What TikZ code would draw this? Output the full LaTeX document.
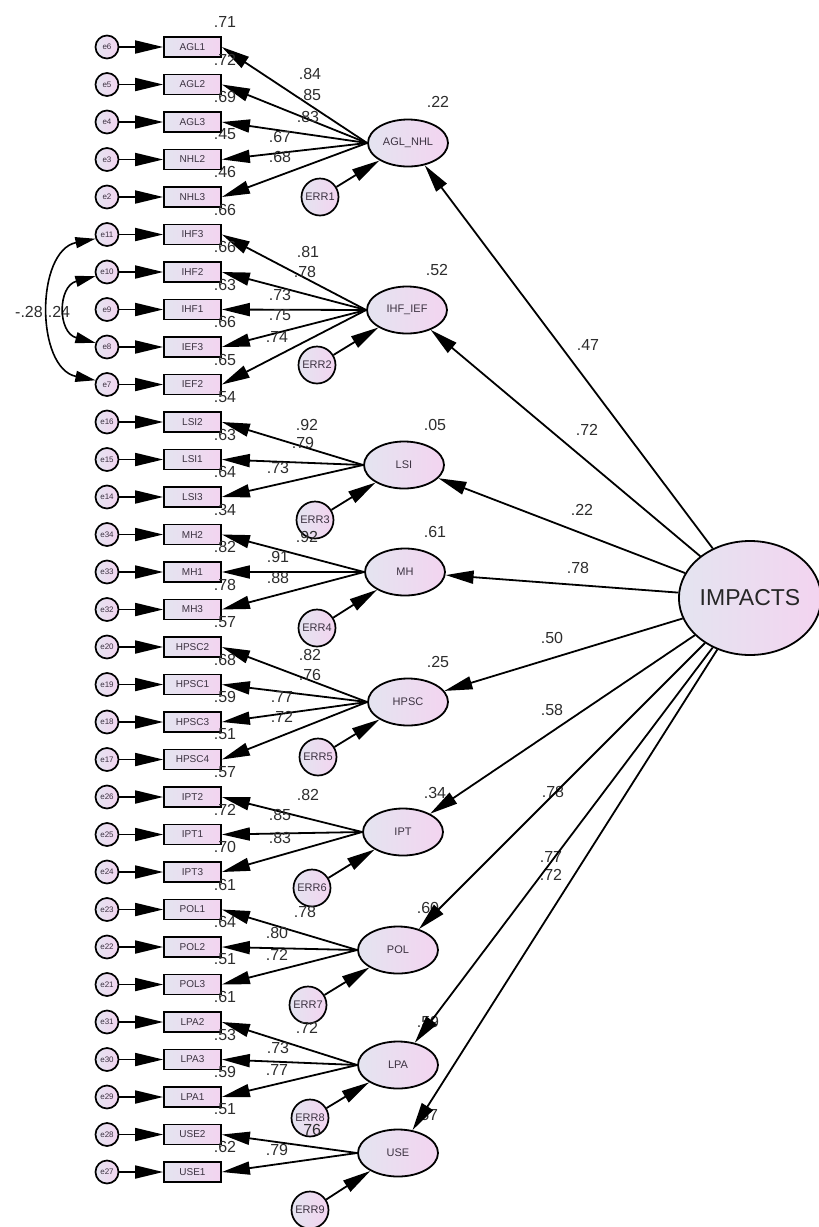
\documentclass[tikz,border=0pt]{standalone}
\usepackage{fontspec}
\setmainfont{Liberation Sans}
\usetikzlibrary{arrows.meta,shapes.geometric}
\definecolor{fillL}{RGB}{228,228,240}
\definecolor{fillR}{RGB}{243,212,240}
\definecolor{txt}{RGB}{60,50,65}
\definecolor{num}{RGB}{45,45,45}
\tikzset{
 arr/.style={line width=1.8pt, -{Triangle[length=28pt,width=13pt]}},
 biarr/.style={line width=1.6pt, {Triangle[length=20pt,width=11pt]}-{Triangle[length=20pt,width=11pt]}},
 ind/.style={draw, line width=1.7pt, rectangle, minimum width=57pt, minimum height=20pt, inner sep=0pt, left color=fillL, right color=fillR, font=\fontsize{10}{10}\selectfont, text=txt},
 ecirc/.style={draw, circle, line width=1.7pt, minimum size=23pt, inner sep=0pt, left color=fillL, right color=fillR, font=\fontsize{8}{8}\selectfont, text=txt},
 errc/.style={draw, circle, line width=1.7pt, minimum size=37pt, inner sep=0pt, left color=fillL, right color=fillR, font=\fontsize{11}{11}\selectfont, text=txt},
 lat/.style={draw, ellipse, line width=1.8pt, minimum width=80pt, minimum height=47pt, inner sep=0pt, left color=fillL, right color=fillR, font=\fontsize{11}{11}\selectfont, text=txt},
 lab/.style={font=\fontsize{16}{16}\selectfont, text=num, inner sep=0pt},
}
\begin{document}
\begin{tikzpicture}[x=1pt,y=-1pt]
\useasboundingbox (0,0) rectangle (819,1227);
% latent variables
\node[lat] (AGLNHL) at (408,143) {AGL\_NHL};
\node[lat] (IHFIEF) at (407,310) {IHF\_IEF};
\node[lat] (LSI) at (404,465) {LSI};
\node[lat] (MH) at (405,572) {MH};
\node[lat] (HPSC) at (408,702) {HPSC};
\node[lat] (IPT) at (403,832) {IPT};
\node[lat] (POL) at (398,950) {POL};
\node[lat] (LPA) at (398,1065) {LPA};
\node[lat] (USE) at (398,1153) {USE};
\node[draw, ellipse, line width=1.8pt, minimum width=134pt, minimum height=114pt, inner sep=0pt, left color=fillL, right color=fillR, text=black!85, font=\fontsize{23}{23}\selectfont] (IMP) at (750,598) {IMPACTS};
% residuals of latents
\node[errc] (ERR1) at (320,197) {ERR1};
\node[errc] (ERR2) at (317,365) {ERR2};
\node[errc] (ERR3) at (315,520) {ERR3};
\node[errc] (ERR4) at (317,628) {ERR4};
\node[errc] (ERR5) at (318,757) {ERR5};
\node[errc] (ERR6) at (312,888) {ERR6};
\node[errc] (ERR7) at (308,1005) {ERR7};
\node[errc] (ERR8) at (310,1118) {ERR8};
\node[errc] (ERR9) at (310,1210) {ERR9};
% indicators
\foreach \i/\nm/\en/\rs/\lt in {
 0/AGL1/e6/.71/AGLNHL, 1/AGL2/e5/.72/AGLNHL, 2/AGL3/e4/.69/AGLNHL, 3/NHL2/e3/.45/AGLNHL, 4/NHL3/e2/.46/AGLNHL,
 5/IHF3/e11/.66/IHFIEF, 6/IHF2/e10/.66/IHFIEF, 7/IHF1/e9/.63/IHFIEF, 8/IEF3/e8/.66/IHFIEF, 9/IEF2/e7/.65/IHFIEF,
 10/LSI2/e16/.54/LSI, 11/LSI1/e15/.63/LSI, 12/LSI3/e14/.64/LSI,
 13/MH2/e34/.34/MH, 14/MH1/e33/.82/MH, 15/MH3/e32/.78/MH,
 16/HPSC2/e20/.57/HPSC, 17/HPSC1/e19/.68/HPSC, 18/HPSC3/e18/.59/HPSC, 19/HPSC4/e17/.51/HPSC,
 20/IPT2/e26/.57/IPT, 21/IPT1/e25/.72/IPT, 22/IPT3/e24/.70/IPT,
 23/POL1/e23/.61/POL, 24/POL2/e22/.64/POL, 25/POL3/e21/.51/POL,
 26/LPA2/e31/.61/LPA, 27/LPA3/e30/.53/LPA, 28/LPA1/e29/.59/LPA,
 29/USE2/e28/.51/USE, 30/USE1/e27/.62/USE}{
 \node[ind] (\nm) at (192.5,47+37.5*\i) {\nm};
 \node[ecirc] (\en) at (107,47+37.5*\i) {\en};
 \node[lab] (r\i) at (225,22+37.5*\i) {\rs};
 \draw[arr] (\en) -- (\nm);
 \draw[arr] (\lt.west) -- (\nm.east);
}
% latent R2
\node[lab] (q1) at (438,102) {.22};
\node[lab] (q2) at (437,270) {.52};
\node[lab] (q3) at (435,425) {.05};
\node[lab] (q4) at (435,532) {.61};
\node[lab] (q5) at (438,662) {.25};
\node[lab] (q6) at (435,793) {.34};
\node[lab] (q7) at (428,908) {.60};
\node[lab] (q8) at (428,1022) {.59};
\node[lab] (q9) at (427,1115) {.57};
% loadings
\node[lab] (w1) at (310,74) {.84};
\node[lab] (w2) at (310,95) {.85};
\node[lab] (w3) at (308,117) {.83};
\node[lab] (w4) at (280,137) {.67};
\node[lab] (w5) at (280,157) {.68};
\node[lab] (w6) at (308,252) {.81};
\node[lab] (w7) at (305,272) {.78};
\node[lab] (w8) at (280,295) {.73};
\node[lab] (w9) at (280,315) {.75};
\node[lab] (w10) at (277,337) {.74};
\node[lab] (w11) at (307,425) {.92};
\node[lab] (w12) at (303,443) {.79};
\node[lab] (w13) at (278,468) {.73};
\node[lab] (w14) at (307,537) {.92};
\node[lab] (w15) at (278,557) {.91};
\node[lab] (w16) at (278,578) {.88};
\node[lab] (w17) at (310,655) {.82};
\node[lab] (w18) at (310,675) {.76};
\node[lab] (w19) at (282,697) {.77};
\node[lab] (w20) at (282,717) {.72};
\node[lab] (w21) at (308,795) {.82};
\node[lab] (w22) at (280,815) {.85};
\node[lab] (w23) at (280,838) {.83};
\node[lab] (w24) at (305,912) {.78};
\node[lab] (w25) at (277,933) {.80};
\node[lab] (w26) at (277,955) {.72};
\node[lab] (w27) at (307,1028) {.72};
\node[lab] (w28) at (278,1048) {.73};
\node[lab] (w29) at (277,1070) {.77};
\node[lab] (w30) at (310,1130) {.76};
\node[lab] (w31) at (277,1150) {.79};
% structural labels
\node[lab] (s1) at (588,345) {.47};
\node[lab] (s2) at (587,430) {.72};
\node[lab] (s3) at (582,510) {.22};
\node[lab] (s4) at (578,568) {.78};
\node[lab] (s5) at (552,638) {.50};
\node[lab] (s6) at (552,710) {.58};
\node[lab] (s7) at (553,792) {.78};
\node[lab] (s8) at (551,857) {.77};
\node[lab] (s9) at (551,875) {.72};
% covariance labels
\node[lab] (c1) at (29,312) {-.28};
\node[lab] (c2) at (59,312) {.24};
% covariances
\draw[biarr] (e11.200) .. controls +(-60,12) and +(-60,-12) .. (e7.160);
\draw[biarr] (e10.200) .. controls +(-38,10) and +(-38,-10) .. (e8.160);
% structural paths
\foreach \l in {AGLNHL,IHFIEF,LSI,MH,HPSC,IPT,POL,LPA,USE} \draw[arr] (IMP) -- (\l);
% errors to latents
\foreach \k/\l in {1/AGLNHL,2/IHFIEF,3/LSI,4/MH,5/HPSC,6/IPT,7/POL,8/LPA,9/USE} \draw[arr] (ERR\k) -- (\l);
\end{tikzpicture}
\end{document}
